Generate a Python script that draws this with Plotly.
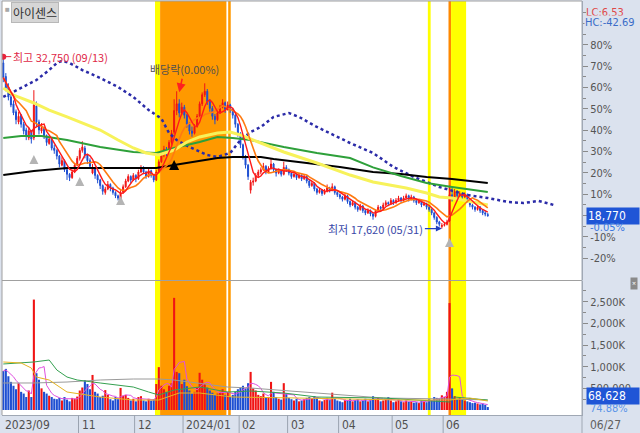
import pandas as pd
import plotly.graph_objects as go

# ---------------- data (prices in hundreds of won) ----------------
company = "아이센스"
opens = [322,310,301,292,286,279,270,276,268,263, 256,262,256,284,270,262,265,258,251,255,
         247,245,240,232,236,228,224,221,226,232, 238,245,247,241,236,225,229,223,219,214,
         208,211,215,212,208,205,202,208,213,218, 222,219,223,220,226,230,226,222,227,223,
         219,226,235,241,246,244,252,261,280,286, 278,283,276,268,262,260,266,275,286,294,
         297,288,282,275,272,278,283,287,281,285, 281,276,268,260,250,240,232,210,217,218,
         223,226,228,231,226,229,233,228,225,227, 224,230,228,225,222,224,221,223,220,222,
         218,214,216,211,208,210,207,209,212,210, 213,208,206,204,202,205,200,197,199,195,
         193,196,192,190,192,189,187,192,195,194, 197,199,198,201,199,201,203,201,203,205,
         202,204,201,199,200,197,198,195,193,190, 186,182,178,179,180,183,206,203,209,205,
         207,204,206,200,197,195,193,195,192,190, 188.5]
highs = [327.5,313,304,296,289,281,279,277,270,265, 265,263,298,288,272,269,266,259,258,256,
         250,246,241,239,237,229,225,228,234,240, 247,253,249,242,238,233,230,224,220,215,
         213,218,216,213,209,206,210,215,220,224, 223,225,224,228,232,231,227,229,228,224,
         228,237,244,249,248,254,263,290,297,290, 287,285,277,270,266,268,277,288,296,304,
         299,290,284,277,280,285,290,288,288,286, 282,277,269,261,251,241,233,219,221,225,
         228,230,234,232,231,238,234,229,229,228, 235,232,229,226,226,225,225,224,224,223,
         219,218,217,212,212,211,211,215,213,216, 214,209,207,205,207,206,201,201,200,196,
         198,197,193,194,193,190,193,197,196,199, 201,200,203,202,203,205,204,205,207,206,
         206,205,202,202,201,200,199,196,194,191, 187,183,181,182,184,214,212,211,210,209,
         208,208,207,201,198,196,197,196,193,192, 190]
lows = [305,297,289,283,276,268,268,265,259,254, 254,251,254,266,259,260,255,249,250,245,
        242,237,230,231,226,219,218,220,225,231, 236,243,238,233,229,224,220,216,211,206,
        206,210,209,206,203,201,201,207,212,217, 216,218,217,219,225,224,220,221,221,217,
        218,225,234,239,240,243,250,259,276,274, 276,273,265,259,257,259,265,274,284,292,
        285,279,272,268,271,277,282,278,280,278, 273,265,257,247,237,229,219,207,214,217,
        221,224,227,224,225,228,226,222,224,222, 223,226,223,220,221,219,220,218,219,216,
        212,213,209,206,207,205,206,208,208,209, 206,204,202,200,201,198,195,196,193,191,
        192,190,188,189,187,184,186,191,192,193, 196,196,197,197,198,200,199,200,202,200,
        201,199,197,198,195,196,193,191,188,184, 180,178,176.2,178,179,182,200,202,203,204,
        202,203,199,195,193,191,192,190,188,187, 186.5]
closes = [309,300,292,285,278,272,275,268,262,258, 262,255,285,270,263,265,258,252,255,247,
          245,240,233,236,228,224,221,226,232,238, 245,248,241,236,231,229,223,219,214,209,
          211,215,212,208,205,203,208,213,218,222, 219,223,220,226,230,226,222,227,223,219,
          226,235,241,246,244,252,260,280,286,278, 283,276,268,262,260,266,275,286,294,297,
          288,282,275,272,278,283,287,281,285,281, 276,268,260,250,240,232,222,217,218,223,
          226,228,231,226,229,233,228,225,227,224, 230,228,225,222,224,221,223,220,222,218,
          214,216,211,208,210,207,209,212,210,213, 208,206,204,202,205,200,197,199,195,193,
          196,192,190,192,189,187,192,195,194,197, 199,198,201,199,201,203,201,203,205,202,
          204,201,199,200,197,198,195,193,190,186, 182,180,179,180,182,206,203,209,205,207,
          204,206,200,197,195,193,195,192,190,189, 187.7]
volumes_k = [900,950,780,650,560,480,620,420,380,300, 450,300,2550,850,700,500,420,380,330,300,
             260,250,280,220,300,240,200,280,260,310, 450,520,690,600,480,810,420,380,300,330,
             460,350,250,220,300,250,510,330,350,280, 220,260,200,300,320,220,200,260,220,250,
             600,990,560,480,420,560,620,2590,880,850, 600,700,550,450,380,420,520,860,700,600,
             520,450,400,350,380,420,480,350,420,300, 350,420,480,520,560,500,620,880,500,450,
             350,320,380,280,300,650,420,300,260,240, 620,380,280,250,220,260,200,220,250,280,
             300,260,320,280,220,200,230,280,240,400, 260,220,200,180,240,220,260,200,230,250,
             200,220,260,200,240,320,260,280,200,220, 250,300,220,180,200,240,200,180,220,190,
             200,170,180,160,220,200,180,250,230,300, 280,260,340,300,420,2470,500,320,260,280,
             250,220,200,180,160,170,150,130,150,120, 68.628]

month_labels = ["2023/09", "11", "12", "2024/01", "02", "03", "04", "05", "06"]
month_starts = [0, 30, 52, 71, 93, 112, 132, 153, 173]
last_date = "06/27"
ref_price = 18770
pct_ticks = [-20, -10, 0, 10, 20, 30, 40, 50, 60, 70, 80, 90]

# moving-average lines (day index, won)
ma120_idx = [0, 12, 25, 38, 51, 60, 67, 77, 84, 90, 94, 101, 106, 119, 132, 145, 156, 166, 176, 190]
ma120_val = [22330, 22690, 22950, 22950, 22950, 22950, 23210, 23570, 23830, 23920, 23920, 23920,
             23740, 23390, 23040, 22600, 22420, 22160, 21980, 21630]
ma60_idx = [0, 7, 15, 25, 38, 51, 60, 67, 77, 84, 90, 97, 110, 123, 136, 145, 156, 166, 176, 190]
ma60_val = [25590, 25770, 25770, 25410, 24800, 24360, 24270, 24710, 25240, 25680, 25590, 25410,
            24800, 24270, 23830, 23000, 22250, 21630, 21280, 20840]
ma20_idx = [0, 4, 12, 18, 25, 31, 38, 45, 51, 56, 61, 67, 72, 77, 84, 89, 93, 101, 110, 123, 136,
            145, 158, 166, 171, 176, 184, 190]
ma20_val = [29990, 29370, 28670, 28050, 27440, 26910, 26290, 25410, 24710, 24270, 24090, 24530,
            25240, 25680, 26030, 26120, 25850, 25150, 24360, 23390, 22330, 21720, 21190, 20750,
            20400, 20310, 19960, 19690]
lead_idx = [0, 7, 13, 18, 21, 23, 26, 31, 38, 45, 51, 57, 62, 65, 68, 73, 80, 84, 89, 93, 97, 101,
            106, 112, 116, 123, 131, 136, 145, 153, 161, 171, 182, 190, 198, 204, 210, 216]
lead_val = [29200, 30000, 30690, 31570, 32190, 32370, 32190, 31570, 30870, 30080, 29200, 28050,
            27300, 26030, 25410, 24800, 24090, 23920, 24270, 25410, 26120, 26560, 27440, 27790,
            27440, 26560, 25680, 25150, 24270, 23040, 22160, 21280, 20570, 20310, 19960, 19870,
            20050, 19690]

# volume averages (day index, thousand shares)
vma_green_idx = [0, 12, 18, 21, 25, 29, 38, 51, 57, 61, 67, 77, 88, 97, 110, 123, 149, 175, 177, 188, 190]
vma_green_val = [1063, 1109, 1155, 924, 762, 693, 624, 531, 416, 347, 462, 531, 416, 439, 393, 300,
                 277, 185, 300, 231, 230]
vma_gray_idx = [0, 12, 25, 38, 51, 61, 67, 77, 88, 97, 123, 149, 175, 190]
vma_gray_val = [624, 624, 647, 693, 716, 716, 693, 624, 531, 508, 393, 277, 254, 231]
vma_gold_idx = [0, 7, 11, 13, 18, 25, 38, 51, 61, 69, 77, 90, 116, 156, 175, 183, 190]
vma_gold_val = [1109, 1086, 970, 762, 693, 416, 300, 231, 231, 393, 393, 300, 277, 231, 231, 277, 208]

# highlighted periods (day index ranges) and signals
bands = [(59.5, 61.5, "#ffff00"), (61.5, 87.5, "#ff9900"), (88.2, 89.2, "#ff9900"),
         (166.5, 167.6, "#ffff00"), (174.6, 175.6, "#ff8800"), (175.6, 181.5, "#ffff00")]
gray_sig_idx = [12, 30, 46, 175]
gray_sig_val = [24090, 22160, 20490, 16790]
black_sig_idx = [67]
black_sig_val = [23650]
exdiv_idx = 69
high_idx, low_idx = 0, 172

# ---------------- figure ----------------
W, H = 640, 433
ML, MR, MT, MB = 2, 58, 1, 18
PH = H - MT - MB
PW = W - ML - MR


def py(p):
    return (H - MB - p) / PH


def px(p):
    return (p - ML) / PW


n = len(closes)
xs = list(range(n))
O = [v * 100 for v in opens]
Hh = [v * 100 for v in highs]
L = [v * 100 for v in lows]
C = [v * 100 for v in closes]
V = [v * 1000 for v in volumes_k]
RED, BLUE = "#f01414", "#1e4fd2"
vcol = [RED if c >= o else BLUE for o, c in zip(O, C)]
cs = pd.Series(C)
ma5 = cs.rolling(5, min_periods=1).mean()
ma10 = cs.rolling(10, min_periods=1).mean()
vma5 = pd.Series(V).rolling(5, min_periods=1).mean()

fig = go.Figure()
fig.add_trace(go.Scatter(x=lead_idx, y=lead_val, mode="lines",
                         line=dict(color="#2b2ba8", width=2.5, dash="dot"), hoverinfo="skip"))
fig.add_trace(go.Scatter(x=ma120_idx, y=ma120_val, mode="lines", line=dict(color="#000000", width=2)))
fig.add_trace(go.Scatter(x=ma60_idx, y=ma60_val, mode="lines", line=dict(color="#2ea03a", width=2)))
fig.add_trace(go.Scatter(x=ma20_idx, y=ma20_val, mode="lines", line=dict(color="#f7f25a", width=3)))
fig.add_trace(go.Scatter(x=xs, y=ma10, mode="lines", line=dict(color="#ff7a10", width=1.6)))
fig.add_trace(go.Candlestick(x=xs, open=O, high=Hh, low=L, close=C,
                             increasing=dict(line=dict(color=RED, width=1), fillcolor=RED),
                             decreasing=dict(line=dict(color=BLUE, width=1), fillcolor=BLUE),
                             whiskerwidth=0, hoverinfo="skip"))
fig.add_trace(go.Scatter(x=xs, y=ma5, mode="lines", line=dict(color="#ff1a1a", width=1.4)))
fig.add_trace(go.Scatter(x=gray_sig_idx, y=gray_sig_val, mode="markers",
                         marker=dict(symbol="arrow-up", size=9, color="#b4b4b4")))
fig.add_trace(go.Scatter(x=black_sig_idx, y=black_sig_val, mode="markers",
                         marker=dict(symbol="arrow-up", size=10, color="#000000")))
fig.add_trace(go.Scatter(x=[high_idx], y=[Hh[high_idx]], mode="markers",
                         marker=dict(size=6, color="#e8243c")))

# volume panel
fig.add_trace(go.Bar(x=xs, y=V, marker=dict(color=vcol, line=dict(width=0)), width=0.82,
                     yaxis="y2"))
fig.add_trace(go.Scatter(x=xs, y=vma5, mode="lines", line=dict(color="#e050e0", width=1), yaxis="y2"))
for ix, vv, col in [(vma_gray_idx, vma_gray_val, "#9a9a9a"), (vma_green_idx, vma_green_val, "#35a050"),
                    (vma_gold_idx, vma_gold_val, "#e6b422")]:
    fig.add_trace(go.Scatter(x=ix, y=[v * 1000 for v in vv], mode="lines",
                             line=dict(color=col, width=1), yaxis="y2"))

shapes = []
for a, b, col in bands:
    shapes.append(dict(type="rect", xref="x", yref="paper", x0=a, x1=b, y0=0, y1=1,
                       fillcolor=col, line=dict(width=0), layer="below"))
for s in month_starts[1:]:
    shapes.append(dict(type="line", xref="x", yref="paper", x0=s - 0.5, x1=s - 0.5,
                       y0=py(H), y1=0, line=dict(color="#9aa3b0", width=1)))
shapes.append(dict(type="line", xref="paper", yref="paper", x0=0, x1=1, y0=py(280.5), y1=py(280.5),
                   line=dict(color="#a0a0a0", width=1)))
shapes.append(dict(type="line", xref="paper", yref="paper", x0=0, x1=1, y0=1, y1=1,
                   line=dict(color="#a0a0a0", width=1)))
shapes.append(dict(type="line", xref="paper", yref="paper", x0=0, x1=0, y0=0, y1=1,
                   line=dict(color="#a0a0a0", width=1)))
shapes.append(dict(type="line", xref="paper", yref="paper", x0=1, x1=1, y0=py(H), y1=1,
                   line=dict(color="#a0a8b4", width=1)))

TF = "Liberation Sans Narrow, DejaVu Sans Condensed, Liberation Sans, Arial"
KF = "Noto Sans CJK KR"
ann = []
for lab, s in zip(month_labels, month_starts):
    ann.append(dict(xref="x", yref="paper", x=s - 0.5, y=0, xanchor="left", yanchor="top",
                    xshift=1, yshift=-1, text=lab, showarrow=False,
                    font=dict(family=TF, size=12, color="#505050")))
ann.append(dict(xref="paper", yref="paper", x=px(588), y=0, xanchor="left", yanchor="top",
                yshift=-1, text=last_date, showarrow=False, font=dict(family=TF, size=12, color="#606060")))
ann.append(dict(xref="paper", yref="paper", x=px(11), y=py(2), xanchor="left", yanchor="top",
                text=company, showarrow=False, bgcolor="#d6d6d6", bordercolor="#b8b8b8", borderwidth=1,
                borderpad=1, font=dict(family=KF, size=12, color="#303030")))
ann.append(dict(xref="paper", yref="paper", x=px(3), y=py(9), xanchor="left", yanchor="middle",
                text="■", showarrow=False, font=dict(size=8, color="#a8a8a8")))
ann.append(dict(xref="paper", yref="paper", x=px(584), y=py(12), xanchor="left", yanchor="middle",
                text="LC:6.53", showarrow=False, font=dict(family=TF, size=11, color="#e04848")))
ann.append(dict(xref="paper", yref="paper", x=px(584), y=py(22), xanchor="left", yanchor="middle",
                text="HC:-42.69", showarrow=False, bgcolor="#dbe2ee", borderpad=0,
                font=dict(family=TF, size=11, color="#3a6cc8")))
ann.append(dict(xref="paper", yref="y", x=px(586), y=C[-1], xanchor="left", yanchor="middle",
                text=f"{int(C[-1]):,}", showarrow=False, bgcolor="#1f55d6", width=50, align="left",
                font=dict(family=TF, size=12, color="white")))
ann.append(dict(xref="paper", yref="y", x=px(588), y=C[-1], xanchor="left", yanchor="middle",
                yshift=-12, text="-0.05%", showarrow=False, font=dict(family=TF, size=11, color="#3c78e0")))
ann.append(dict(xref="paper", yref="y2", x=px(586), y=V[-1], xanchor="left", yanchor="middle",
                yshift=11, text=f"{int(round(V[-1])):,}", showarrow=False, bgcolor="#1f55d6", width=50,
                align="left", font=dict(family=TF, size=12, color="white")))
ann.append(dict(xref="paper", yref="y2", x=px(588), y=V[-1], xanchor="left", yanchor="middle",
                yshift=-1, text="74.88%", showarrow=False, font=dict(family=TF, size=11, color="#5a94e8")))
ann.append(dict(xref="paper", yref="paper", x=px(634), y=py(284), xanchor="center", yanchor="middle",
                text="×", showarrow=False, bgcolor="#8a8a8a", font=dict(size=7, color="white")))
ann.append(dict(xref="x", yref="y", x=high_idx, y=Hh[high_idx], ax=57, ay=0, text="최고 32,750 (09/13)",
                showarrow=True, arrowhead=0, arrowwidth=1, arrowcolor="#e8243c",
                font=dict(family=KF, size=11, color="#e02a48")))
ann.append(dict(xref="x", yref="y", x=low_idx, y=L[low_idx], ax=-66, ay=0, text="최저 17,620 (05/31)",
                showarrow=True, arrowhead=2, arrowsize=1, arrowwidth=1.2, arrowcolor="#2040c0",
                font=dict(family=KF, size=11, color="#3a48a8")))
ann.append(dict(xref="x", yref="y", x=exdiv_idx, y=Hh[exdiv_idx], yshift=7, ax=5, ay=-23,
                text="배당락(0.00%)", showarrow=True, arrowhead=2, arrowsize=1.2, arrowwidth=1.5,
                arrowcolor="#ff2020", font=dict(family=KF, size=11, color="#505050")))

fig.update_layout(
    width=W, height=H, margin=dict(l=ML, r=MR, t=MT, b=MB),
    paper_bgcolor="#dbe2ee", plot_bgcolor="white", showlegend=False, boxgap=0.45,
    shapes=shapes, annotations=ann,
    xaxis=dict(domain=[0, 1], range=[-0.5, -0.5 + PW / 2.55], anchor="y2", showticklabels=False,
               showgrid=False, zeroline=False, ticks="", showline=True, linecolor="#a0a8b4",
               rangeslider=dict(visible=False)),
    yaxis=dict(domain=[py(280), 1], range=[13094, 37645], side="right", showgrid=False, zeroline=False,
               tickmode="array", tickvals=[ref_price * (1 + p / 100) for p in pct_ticks],
               ticktext=[f"{p}%" for p in pct_ticks], ticks="outside", ticklen=5, tickcolor="#8a8a8a",
               showline=True, linecolor="#a0a8b4",
               minor=dict(tickvals=[ref_price * (1 + (p + 5) / 100) for p in pct_ticks],
                          ticks="outside", ticklen=3, tickcolor="#8a8a8a"),
               tickfont=dict(family=TF, size=11, color="#555555")),
    yaxis2=dict(domain=[0, py(281)], range=[-115000, 2979000], side="right", showgrid=False,
                zeroline=False, tickmode="array",
                tickvals=[500000, 1000000, 1500000, 2000000, 2500000],
                ticktext=["500,000", "1,000K", "1,500K", "2,000K", "2,500K"],
                ticks="outside", ticklen=5, tickcolor="#8a8a8a", showline=True, linecolor="#a0a8b4",
                minor=dict(tickvals=[250000 * k for k in range(1, 12)], ticks="outside", ticklen=3,
                           tickcolor="#8a8a8a"),
                tickfont=dict(family=TF, size=11, color="#555555")),
)
fig.write_html("out.html", config={"displayModeBar": False},
               post_script="document.body.style.margin='0';document.body.style.overflow='hidden';")
